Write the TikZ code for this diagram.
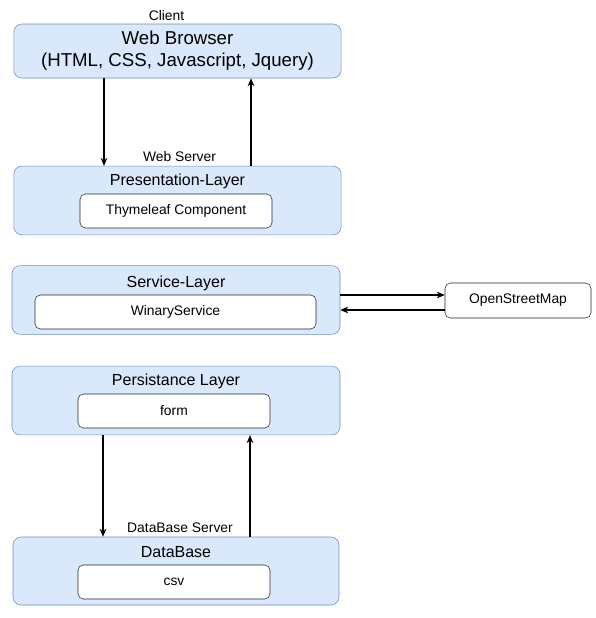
\documentclass[tikz,border=0pt]{standalone}
\usepackage{fontspec}
\setmainfont{Liberation Sans}
\usetikzlibrary{arrows.meta,positioning}
\definecolor{layerfill}{HTML}{DAE8FC}
\definecolor{layerline}{HTML}{6C8EBF}
\tikzset{
  layer/.style={draw=layerline,fill=layerfill,rounded corners=6pt,minimum width=245.5pt,minimum height=51.5pt},
  part/.style={draw=black!85,fill=white,rounded corners=4pt,minimum height=25.5pt,font=\fontsize{10.4}{12}\selectfont},
  title/.style={font=\fontsize{12}{14}\selectfont},
  small/.style={font=\fontsize{10.4}{12}\selectfont},
  flow/.style={-{Stealth[length=6pt,width=5pt]},line width=0.9pt}
}
\begin{document}
\begin{tikzpicture}[x=0.75pt,y=-0.75pt]
\useasboundingbox (0,0) rectangle (596,618);
%layers
\node[layer,minimum height=40.5pt,align=center,font=\fontsize{14}{16.5}\selectfont](web) at (177.5,51){Web Browser\\(HTML, CSS, Javascript, Jquery)};
\node[small] (client) at (166.5,16){Client};
\node[layer](pres) at (177.5,200.5){};
\node[title] (prest) at (177.5,181){Presentation-Layer};
\node[part,minimum width=144pt](thyme) at (176,211){Thymeleaf Component};
\node[small] (websrv) at (179.5,157){Web Server};
\node[layer,minimum width=246pt](serv) at (176,300){};
\node[title] (servt) at (176,283){Service-Layer};
\node[part,minimum width=210.75pt](winary) at (175.5,312){WinaryService};
\node[part,minimum width=109.5pt,minimum height=26.25pt](osm) at (518,300.5){OpenStreetMap};
\node[layer,minimum width=246pt](pers) at (176,400.5){};
\node[title] (perst) at (176,381){Persistance Layer};
\node[part,minimum width=144pt](form) at (174,411){form};
\node[layer,minimum width=244.5pt,minimum height=51pt](db) at (176,571){};
\node[title] (dbt) at (176,552){DataBase};
\node[part,minimum width=144pt](csv) at (174,582){csv};
\node[small] (dbsrv) at (180,528){DataBase Server};
%arrows
\coordinate (l1) at (104,0);
\coordinate (r1) at (251,0);
\coordinate (l2) at (103,0);
\coordinate (r2) at (250,0);
\coordinate (u) at (0,295);
\coordinate (d) at (0,310);
\draw[flow] (web.south -| l1)--(pres.north -| l1);
\draw[flow] (pres.north -| r1)--(web.south -| r1);
\draw[flow] (serv.east |- u)--(osm.west |- u);
\draw[flow] (osm.west |- d)--(serv.east |- d);
\draw[flow] (pers.south -| l2)--(db.north -| l2);
\draw[flow] (db.north -| r2)--(pers.south -| r2);
\end{tikzpicture}
\end{document}
